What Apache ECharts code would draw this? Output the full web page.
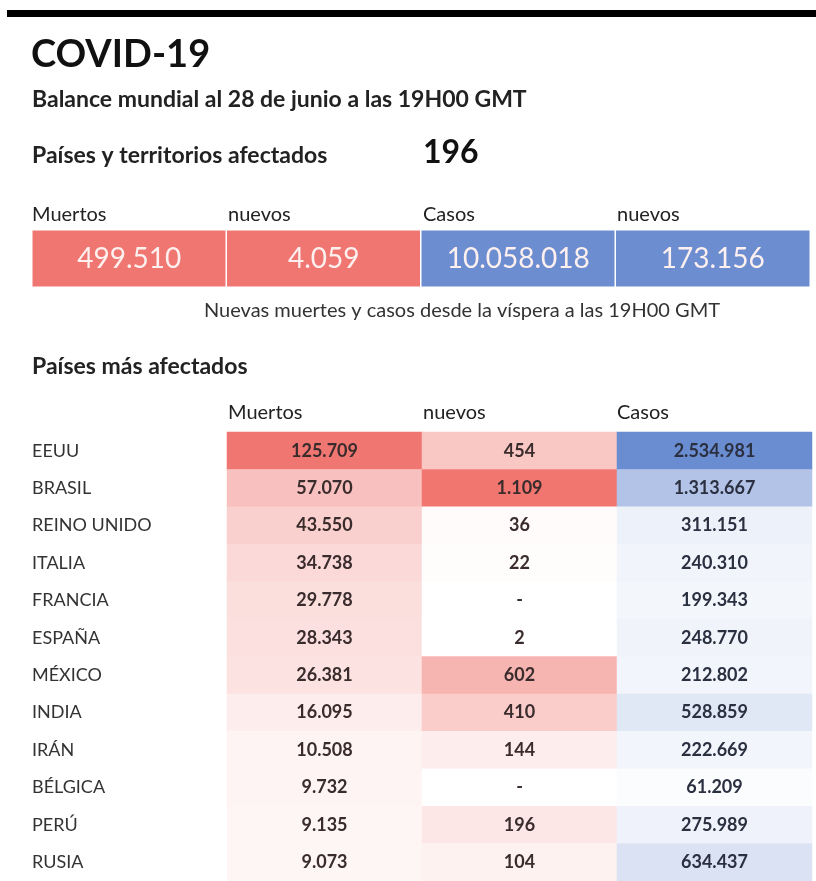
<!DOCTYPE html>
<html>
<head>
<meta charset="utf-8">
<script src="https://cdn.jsdelivr.net/npm/echarts@6/dist/echarts.min.js"></script>
<style>
html,body{margin:0;padding:0;background:#fff;}
#chart{width:816px;height:881px;}
</style>
</head>
<body>
<div id="chart"></div>
<script>
// ---- Data ----
const titulo = 'COVID-19';
const subtitulo = 'Balance mundial al 28 de junio a las 19H00 GMT';
const paisesEtiqueta = 'Países y territorios afectados';
const paisesAfectados = 196;
const totalesEtiquetas = ['Muertos', 'nuevos', 'Casos', 'nuevos'];
const totales = [499510, 4059, 10058018, 173156];
const nota = 'Nuevas muertes y casos desde la víspera a las 19H00 GMT';
const tablaTitulo = 'Países más afectados';
const columnas = ['Muertos', 'nuevos', 'Casos'];
const paises = ['EEUU', 'BRASIL', 'REINO UNIDO', 'ITALIA', 'FRANCIA', 'ESPAÑA', 'MÉXICO', 'INDIA', 'IRÁN', 'BÉLGICA', 'PERÚ', 'RUSIA'];
const muertos = [125709, 57070, 43550, 34738, 29778, 28343, 26381, 16095, 10508, 9732, 9135, 9073];
const nuevosMuertos = [454, 1109, 36, 22, null, 2, 602, 410, 144, null, 196, 104];
const casos = [2534981, 1313667, 311151, 240310, 199343, 248770, 212802, 528859, 222669, 61209, 275989, 634437];

// ---- Helpers ----
const FONT = 'Lato, "Noto Sans", sans-serif';
const RED = '#f07672';
const BLUE = '#6c8dd0';
function fmt(v) {
  if (v === null || v === undefined) return '-';
  return String(v).replace(/\B(?=(\d{3})+(?!\d))/g, '.');
}
const totalColors = [RED, RED, BLUE, BLUE];

const topData = totales.map((v, i) => ({
  value: [i, 0, v],
  itemStyle: { color: totalColors[i] }
}));
function colData(arr, col) {
  return arr.map((v, i) => ({ value: [col, i, v === null ? 0 : v], raw: v }));
}

const chart = echarts.init(document.getElementById('chart'), null, { renderer: 'canvas' });

const headerX = [32, 228, 423, 617];
const tableHeaderX = [228, 423, 617];

const graphics = [
  { type: 'rect', shape: { x: 7, y: 10, width: 809, height: 7 }, style: { fill: '#000' } },
  { type: 'text', x: 31, y: 55, style: { text: titulo, font: 'bold 38px ' + FONT, fill: '#111', verticalAlign: 'middle' } },
  { type: 'text', x: 32, y: 100, style: { text: subtitulo, font: 'bold 23px ' + FONT, fill: '#222', verticalAlign: 'middle' } },
  { type: 'text', x: 32, y: 156, style: { text: paisesEtiqueta, font: 'bold 23px ' + FONT, fill: '#222', verticalAlign: 'middle' } },
  { type: 'text', x: 423, y: 153, style: { text: String(paisesAfectados), font: 'bold 32px ' + FONT, fill: '#111', verticalAlign: 'middle' } },
  { type: 'text', x: 462, y: 311, style: { text: nota, font: '20px ' + FONT, fill: '#333', align: 'center', verticalAlign: 'middle' } },
  { type: 'text', x: 32, y: 367, style: { text: tablaTitulo, font: 'bold 23px ' + FONT, fill: '#222', verticalAlign: 'middle' } }
];
totalesEtiquetas.forEach((t, i) => {
  graphics.push({ type: 'text', x: headerX[i], y: 215, style: { text: t, font: '20px ' + FONT, fill: '#222', verticalAlign: 'middle' } });
});
columnas.forEach((t, i) => {
  graphics.push({ type: 'text', x: tableHeaderX[i], y: 413, style: { text: t, font: '20px ' + FONT, fill: '#222', verticalAlign: 'middle' } });
});

const option = {
  animation: false,
  backgroundColor: '#fff',
  textStyle: { fontFamily: FONT },
  graphic: graphics,
  grid: [
    { left: 32, top: 230, width: 778, height: 57 },
    { left: 227, top: 432, width: 585, height: 456 }
  ],
  xAxis: [
    { type: 'category', gridIndex: 0, data: totalesEtiquetas.map((t, i) => i), show: false },
    { type: 'category', gridIndex: 1, data: columnas, show: false }
  ],
  yAxis: [
    { type: 'category', gridIndex: 0, data: ['total'], show: false },
    {
      type: 'category', gridIndex: 1, data: paises, inverse: true,
      axisLine: { show: false }, axisTick: { show: false }, splitLine: { show: false },
      axisLabel: { align: 'left', margin: 195, fontSize: 18, color: '#333', fontFamily: FONT }
    }
  ],
  visualMap: [
    { type: 'continuous', show: false, seriesIndex: 1, dimension: 2, min: 0, max: 125709, inRange: { color: ['#ffffff', '#ef7671'] } },
    { type: 'continuous', show: false, seriesIndex: 2, dimension: 2, min: 0, max: 1109, inRange: { color: ['#ffffff', '#f1766f'] } },
    { type: 'continuous', show: false, seriesIndex: 3, dimension: 2, min: 0, max: 2534981, inRange: { color: ['#ffffff', '#6a8cd0'] } }
  ],
  series: [
    {
      type: 'heatmap', xAxisIndex: 0, yAxisIndex: 0, data: topData,
      itemStyle: { borderColor: '#fff', borderWidth: 1.5 },
      label: { show: true, formatter: p => fmt(p.value[2]), fontSize: 28, color: '#fdf0ef', fontFamily: FONT },
      emphasis: { disabled: true }
    },
    {
      type: 'heatmap', xAxisIndex: 1, yAxisIndex: 1, data: colData(muertos, 0),
      label: { show: true, formatter: p => fmt(p.data.raw), fontSize: 18, fontWeight: 'bold', color: '#3a2c2c', fontFamily: FONT },
      emphasis: { disabled: true }
    },
    {
      type: 'heatmap', xAxisIndex: 1, yAxisIndex: 1, data: colData(nuevosMuertos, 1),
      label: { show: true, formatter: p => fmt(p.data.raw), fontSize: 18, fontWeight: 'bold', color: '#3a2c2c', fontFamily: FONT },
      emphasis: { disabled: true }
    },
    {
      type: 'heatmap', xAxisIndex: 1, yAxisIndex: 1, data: colData(casos, 2),
      label: { show: true, formatter: p => fmt(p.data.raw), fontSize: 18, fontWeight: 'bold', color: '#2a3040', fontFamily: FONT },
      emphasis: { disabled: true }
    }
  ]
};
chart.setOption(option);
</script>
</body>
</html>
